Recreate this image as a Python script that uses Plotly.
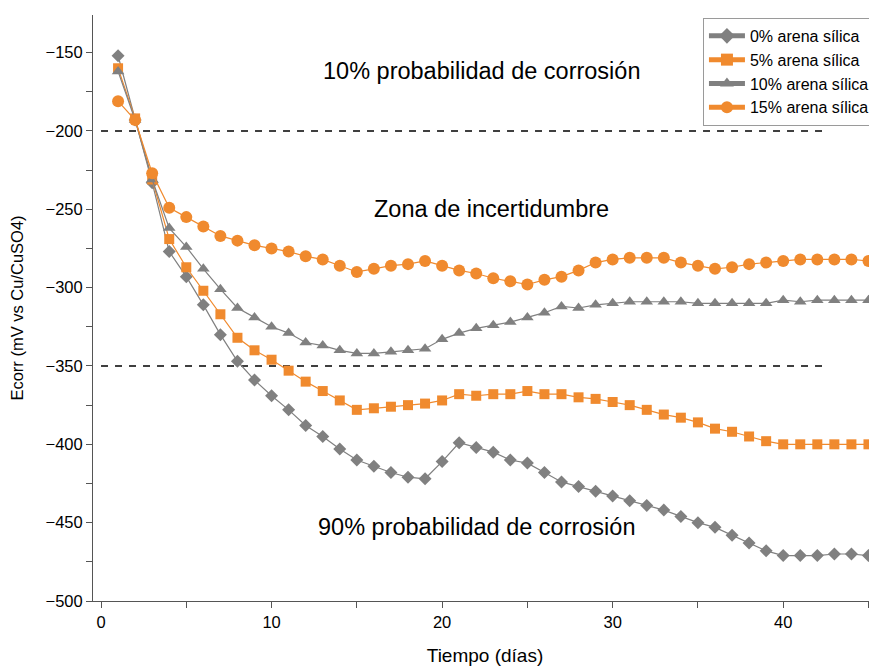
import plotly.graph_objects as go

days = list(range(1, 46))

s0 = [-152, -193, -233, -277, -293, -311, -330, -347, -359, -369,
      -378, -388, -395, -403, -410, -414, -418, -421, -422, -411,
      -399, -402, -405, -410, -412, -418, -424, -427, -430, -433,
      -436, -439, -442, -446, -450, -453, -458, -463, -468, -471,
      -471, -471, -470, -470, -471]
s5 = [-160, -192, -231, -269, -287, -302, -317, -332, -340, -346,
      -353, -360, -366, -372, -378, -377, -376, -375, -374, -372,
      -368, -369, -368, -368, -366, -368, -368, -370, -371, -373,
      -375, -378, -381, -383, -386, -390, -392, -395, -398, -400,
      -400, -400, -400, -400, -400]
s10 = [-162, -193, -231, -262, -274, -288, -301, -313, -319, -325,
       -329, -335, -337, -340, -342, -342, -341, -340, -339, -333,
       -329, -326, -324, -322, -319, -316, -312, -313, -311, -310,
       -309, -309, -309, -309, -310, -310, -310, -310, -310, -308,
       -309, -308, -308, -308, -308]
s15 = [-181, -193, -227, -249, -255, -261, -267, -270, -273, -275,
       -277, -280, -282, -286, -290, -288, -286, -285, -283, -286,
       -289, -291, -294, -296, -298, -295, -293, -289, -284, -282,
       -281, -281, -281, -284, -286, -288, -287, -285, -284, -283,
       -282, -282, -282, -282, -283]

names = ["0% arena sílica", "5% arena sílica", "10% arena sílica", "15% arena sílica"]
symbols = ["diamond", "square", "triangle-up", "circle"]
sizes = [10, 10, 11, 12]
GRAY = "#808080"
ORANGE = "#F08A2E"
colors = [GRAY, ORANGE, GRAY, ORANGE]
series = [s0, s5, s10, s15]

thresholds = [-200, -350]
thr_x = [0, 42.3]

zone_labels = ["10% probabilidad de corrosión", "Zona de incertidumbre", "90% probabilidad de corrosión"]
zone_x = [22.3, 22.9, 22.0]
zone_y = [-161.5, -249.5, -453]

FONT = "Liberation Sans, Arial"

fig = go.Figure()
for th in thresholds:
    fig.add_trace(go.Scatter(x=thr_x, y=[th, th], mode="lines",
                             line=dict(color="black", width=1.6, dash="7px,7px"),
                             showlegend=False, hoverinfo="skip"))

for n, sym, sz, col, ys in zip(names, symbols, sizes, colors, series):
    fig.add_trace(go.Scatter(x=days, y=ys, mode="lines+markers", name=n,
                             line=dict(color=col, width=1.2),
                             marker=dict(symbol=sym, size=sz, color=col,
                                         line=dict(width=0))))

for t, x, y in zip(zone_labels, zone_x, zone_y):
    fig.add_annotation(x=x, y=y, text=t, showarrow=False,
                       font=dict(family=FONT, size=23.5, color="black"))

tickfont = dict(family=FONT, size=16.5, color="black")

fig.update_layout(
    width=869, height=658,
    margin=dict(l=85, r=0, t=7, b=65),
    plot_bgcolor="white", paper_bgcolor="white",
    legend=dict(x=0.778, y=0.995, xanchor="left", yanchor="top",
                bgcolor="white", bordercolor="#9a9a9a", borderwidth=1,
                font=dict(family=FONT, size=16, color="black"),
                tracegroupgap=0, itemsizing="constant", itemwidth=36),
    xaxis=dict(range=[-0.47, 45.5], tickvals=[0, 10, 20, 30, 40],
               showgrid=False, zeroline=False, showline=True, linecolor="#555",
               linewidth=1, ticks="outside", ticklen=6, tickcolor="#555",
               minor=dict(dtick=5, tick0=0, ticks="outside", ticklen=6, tickcolor="#555"),
               tickfont=tickfont, automargin=False,
               title=dict(text="Tiempo (días)", font=dict(family=FONT, size=19, color="black"), standoff=18)),
    yaxis=dict(range=[-500, -126], tickvals=[-500, -450, -400, -350, -300, -250, -200, -150],
               ticktext=["−500", "−450", "−400", "−350", "−300", "−250", "−200", "−150"],
               showgrid=False, zeroline=False, showline=True, linecolor="#555",
               linewidth=1, ticks="outside", ticklen=6, tickcolor="#555",
               minor=dict(dtick=25, tick0=-500, ticks="outside", ticklen=6, tickcolor="#555"),
               tickfont=tickfont, automargin=False,
               title=dict(text="Ecorr (mV vs Cu/CuSO4)", font=dict(family=FONT, size=16.5, color="black"), standoff=18)),
)

fig.write_html("out.html")
